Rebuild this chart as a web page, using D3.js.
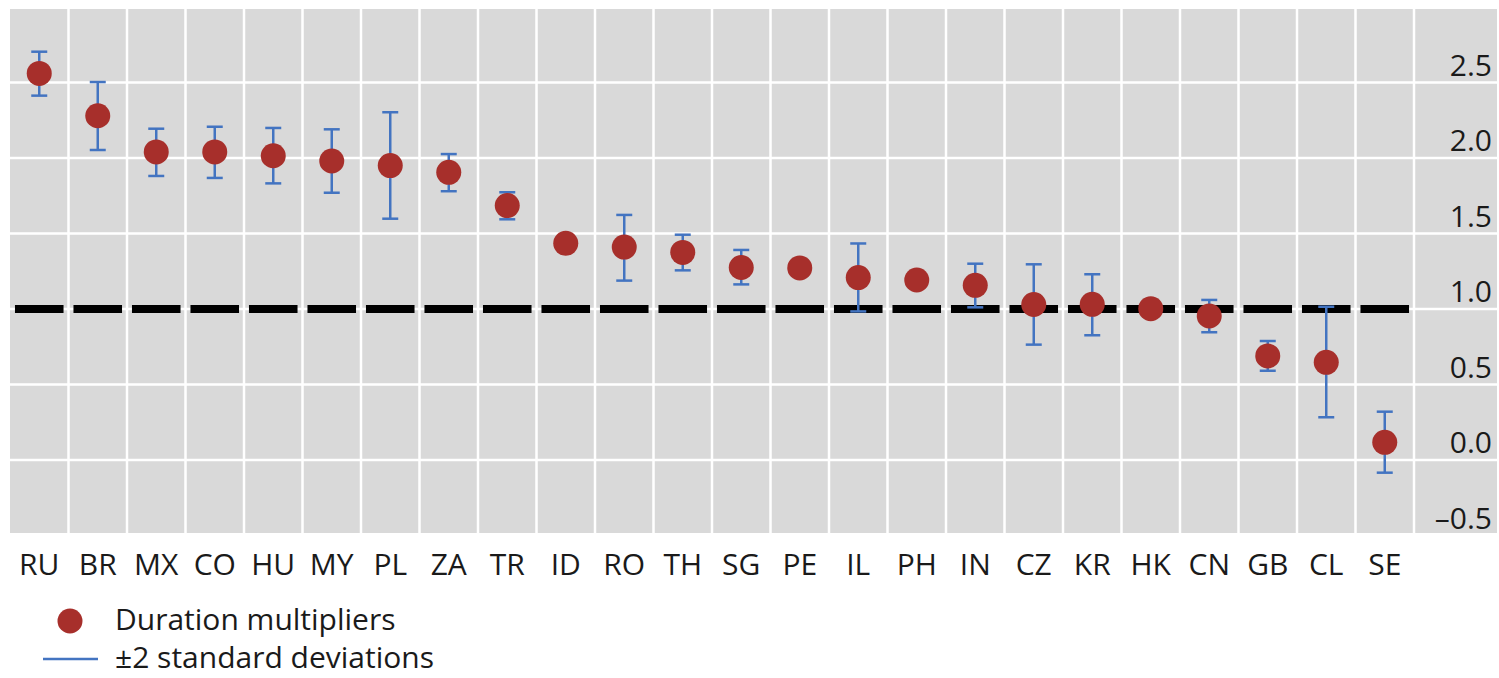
<!DOCTYPE html>
<html>
<head>
<meta charset="utf-8">
<script src="https://cdn.jsdelivr.net/npm/d3@7"></script>
<style>
  html, body { margin: 0; padding: 0; background: #fff; }
  svg { display: block; }
  text { font-family: "Open Sans", "Noto Sans", sans-serif; fill: #1a1a1a; }
</style>
</head>
<body>
<svg id="chart" width="1499" height="678"></svg>
<script>
const categories = ["RU","BR","MX","CO","HU","MY","PL","ZA","TR","ID","RO","TH","SG","PE","IL","PH","IN","CZ","KR","HK","CN","GB","CL","SE"];
const multipliers = [2.56, 2.28, 2.04, 2.04, 2.015, 1.98, 1.95, 1.905, 1.685, 1.435, 1.41, 1.375, 1.275, 1.272, 1.208, 1.192, 1.157, 1.03, 1.031, 1.002, 0.954, 0.689, 0.647, 0.117];
const upperBand = [2.704, 2.503, 2.194, 2.207, 2.199, 2.19, 2.303, 2.026, 1.773, null, 1.623, 1.492, 1.391, null, 1.434, null, 1.30, 1.296, 1.23, null, 1.06, 0.788, 1.015, 0.32];
const lowerBand = [2.413, 2.053, 1.881, 1.868, 1.832, 1.77, 1.598, 1.78, 1.594, null, 1.188, 1.256, 1.163, null, 0.984, null, 1.011, 0.764, 0.826, null, 0.846, 0.591, 0.283, -0.084];
const yTicks = [-0.5, 0.0, 0.5, 1.0, 1.5, 2.0, 2.5];
const yTickLabels = ["\u20130.5", "0.0", "0.5", "1.0", "1.5", "2.0", "2.5"];
const referenceValue = 1.0;
const legendLabels = ["Duration multipliers", "\u00b12 standard deviations"];

const svg = d3.select("#chart");
const plot = { left: 10, right: 1497, top: 9, bottom: 533, bandRight: 1414 };

const x = d3.scaleBand().domain(categories).range([plot.left, plot.bandRight]).padding(0);
const y = d3.scaleLinear().domain([-0.5, 3.0]).range([535.5, 7]);

const dotColor = "#a72f2b";
const barColor = "#4374c1";

// background
svg.append("rect")
  .attr("x", plot.left).attr("y", plot.top)
  .attr("width", plot.right - plot.left).attr("height", plot.bottom - plot.top)
  .attr("fill", "#d9d9d9");

// horizontal gridlines
svg.append("g").selectAll("line")
  .data(yTicks.filter(v => y(v) > plot.top && y(v) < plot.bottom))
  .join("line")
  .attr("x1", plot.left).attr("x2", plot.right)
  .attr("y1", d => y(d)).attr("y2", d => y(d))
  .attr("stroke", "#ffffff").attr("stroke-width", 2.5);

// vertical gridlines (category boundaries)
const bounds = categories.slice(1).map(c => x(c)).concat([x(categories[categories.length - 1]) + x.bandwidth()]);
svg.append("g").selectAll("line")
  .data(bounds)
  .join("line")
  .attr("x1", d => d).attr("x2", d => d)
  .attr("y1", plot.top).attr("y2", plot.bottom)
  .attr("stroke", "#ffffff").attr("stroke-width", 2.5);

// y-axis labels (right side, above gridline)
svg.append("g").selectAll("text")
  .data(yTicks)
  .join("text")
  .attr("x", 1492)
  .attr("y", d => y(d) - 7)
  .attr("text-anchor", "end")
  .attr("font-size", 30)
  .text((d, i) => yTickLabels[i]);

// reference dashed line at 1.0 (one dash per category)
const dashW = x.bandwidth() * 0.83;
svg.append("g").selectAll("line")
  .data(categories)
  .join("line")
  .attr("x1", d => x(d) + (x.bandwidth() - dashW) / 2)
  .attr("x2", d => x(d) + (x.bandwidth() + dashW) / 2)
  .attr("y1", y(referenceValue)).attr("y2", y(referenceValue))
  .attr("stroke", "#000").attr("stroke-width", 8);

// error bars
const errData = categories.map((c, i) => ({ c, hi: upperBand[i], lo: lowerBand[i] })).filter(d => d.hi != null);
const capW = 16;
const eg = svg.append("g").attr("stroke", barColor).attr("stroke-width", 2.5);
eg.selectAll("line.v").data(errData).join("line").attr("class", "v")
  .attr("x1", d => x(d.c) + x.bandwidth() / 2).attr("x2", d => x(d.c) + x.bandwidth() / 2)
  .attr("y1", d => y(d.hi)).attr("y2", d => y(d.lo));
eg.selectAll("line.t").data(errData).join("line").attr("class", "t")
  .attr("x1", d => x(d.c) + x.bandwidth() / 2 - capW / 2).attr("x2", d => x(d.c) + x.bandwidth() / 2 + capW / 2)
  .attr("y1", d => y(d.hi)).attr("y2", d => y(d.hi));
eg.selectAll("line.b").data(errData).join("line").attr("class", "b")
  .attr("x1", d => x(d.c) + x.bandwidth() / 2 - capW / 2).attr("x2", d => x(d.c) + x.bandwidth() / 2 + capW / 2)
  .attr("y1", d => y(d.lo)).attr("y2", d => y(d.lo));

// dots
svg.append("g").selectAll("circle")
  .data(categories.map((c, i) => ({ c, v: multipliers[i] })))
  .join("circle")
  .attr("cx", d => x(d.c) + x.bandwidth() / 2)
  .attr("cy", d => y(d.v))
  .attr("r", 12.5)
  .attr("fill", dotColor);

// category labels
svg.append("g").selectAll("text")
  .data(categories)
  .join("text")
  .attr("x", d => x(d) + x.bandwidth() / 2)
  .attr("y", 575)
  .attr("text-anchor", "middle")
  .attr("font-size", 30)
  .text(d => d);

// legend
const lg = svg.append("g");
lg.append("circle").attr("cx", 70).attr("cy", 621).attr("r", 12.5).attr("fill", dotColor);
lg.append("text").attr("x", 115).attr("y", 630).attr("font-size", 30).text(legendLabels[0]);
lg.append("line").attr("x1", 43).attr("x2", 98).attr("y1", 659).attr("y2", 659)
  .attr("stroke", barColor).attr("stroke-width", 2.5);
lg.append("text").attr("x", 115).attr("y", 668).attr("font-size", 30).text(legendLabels[1]);
</script>
</body>
</html>
